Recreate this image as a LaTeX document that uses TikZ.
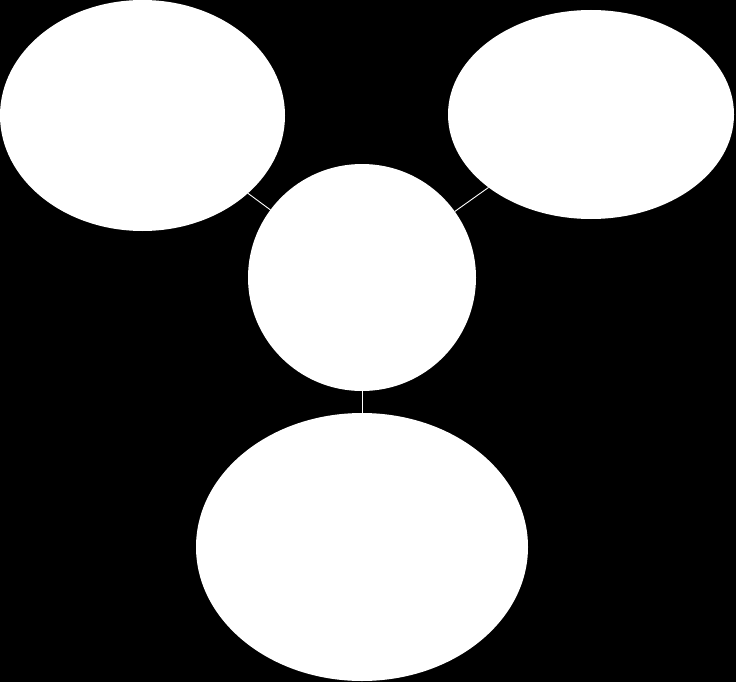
\documentclass[tikz,border=0pt]{standalone}
\usetikzlibrary{shapes.geometric}
\begin{document}
\begin{tikzpicture}[x=1pt,y=-1pt,
  blob/.style={ellipse,fill=white,draw=none,inner sep=0pt,outer sep=0pt},
  link/.style={draw=white,line width=0.9pt}]
\fill[black] (0,0) rectangle (736,682);
\useasboundingbox (0,0) rectangle (736,682);
\node[blob,minimum width=285pt,minimum height=231pt] (tl) at (142.5,115.5) {};
\node[blob,minimum width=286pt,minimum height=209pt] (tr) at (591,114.5) {};
\node[blob,minimum width=228pt,minimum height=227pt] (mid) at (362,277.5) {};
\node[blob,minimum width=332pt,minimum height=268pt] (bot) at (362,547) {};
\draw[link] (tl) -- (mid);
\draw[link] (tr) -- (mid);
\draw[link] (mid) -- (bot);
\end{tikzpicture}
\end{document}
